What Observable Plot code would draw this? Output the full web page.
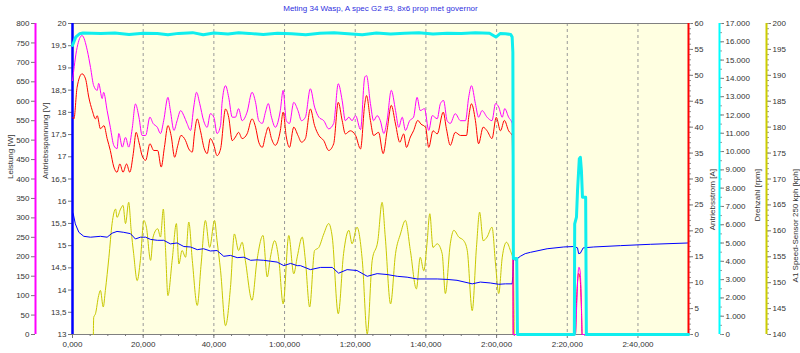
<!DOCTYPE html>
<html><head><meta charset="utf-8">
<script src="https://cdn.jsdelivr.net/npm/d3@7"></script>
<script src="https://cdn.jsdelivr.net/npm/@observablehq/plot@0.6"></script>
<style>
html,body{margin:0;padding:0;background:#fff;}
#chart{position:relative;width:800px;height:353px;font-family:"Liberation Sans",Arial,sans-serif;}
#chart svg{position:absolute;left:0;top:0;}
#title{position:absolute;top:4px;left:0;width:761px;text-align:center;font-size:8px;color:#3030e0;}
</style></head><body>
<div id="chart"><div id="title"></div></div>
<script>
const chartTitle = "Meting 34 Wasp, A spec G2 #3, 8x6 prop met governor";
const xDomain = [0, 174.3];
const xTicks = [0, 20, 40, 60, 80, 100, 120, 140, 160];
const xMinorTicks = d3.range(0, 174, 5);

// Leistung [W]  (time s, W)
const leistung = [[0,653],[1.3,738],[2.7,769],[4.2,730],[5.1,687],[6.0,640],[7.0,628],[7.4,646],[8.4,607],[8.8,623],[9.8,576],[10.7,533],[11.7,486],[12.6,478],[13.1,517],[14.1,482],[15.0,507],[15.9,482],[16.9,530],[17.8,593],[18.8,559],[19.7,512],[20.7,512],[21.9,559],[22.8,543],[24.0,533],[24.9,517],[25.8,550],[27.0,610],[27.7,576],[28.7,525],[29.6,550],[30.6,576],[31.5,563],[32.4,543],[33.4,525],[34.3,585],[35.1,623],[36.0,594],[37.1,550],[38.1,533],[39.0,568],[40.0,559],[40.9,517],[41.9,538],[42.3,594],[43.3,640],[44.2,610],[45.2,559],[46.1,559],[47.0,581],[48.0,550],[49.4,572],[50.8,623],[51.8,597],[52.7,550],[53.7,543],[54.6,572],[55.4,594],[56.3,559],[57.4,533],[58.8,576],[59.6,628],[60.5,550],[61.4,543],[62.6,597],[63.8,576],[64.8,550],[65.9,559],[67.3,632],[68.5,585],[69.7,559],[71.1,550],[72.5,529],[73.9,543],[75.2,645],[76.3,602],[77.2,550],[78.2,559],[79.1,550],[80.1,563],[81.5,527],[82.7,662],[83.2,666],[84.3,594],[85.2,550],[86.2,563],[87.1,550],[88.1,517],[89.0,550],[90.2,628],[91.4,576],[92.3,533],[93.3,559],[94.2,525],[95.4,550],[96.5,559],[97.5,610],[98.4,576],[99.6,581],[100.8,525],[101.8,563],[103.2,555],[104.1,594],[105.0,602],[106.0,550],[106.9,543],[108.3,568],[109.8,550],[111.2,550],[112.1,610],[112.9,640],[114.0,594],[114.9,559],[115.9,576],[117.3,559],[118.7,550],[119.7,594],[120.6,585],[121.6,559],[122.3,581],[123.4,559],[124.4,543],[124.6,400],[124.7,0],[142.3,0],[142.6,60],[143.0,150],[143.3,173],[143.6,165],[144.0,80],[144.2,0],[174.3,0]];

// Antriebsstrom [A]
const strom = [[0,41.9],[0.4,41.6],[1.3,47.7],[2.7,50.3],[3.7,49.3],[4.6,45.8],[5.6,43.2],[6.5,41.6],[7.0,42.2],[7.9,39.7],[8.9,40.3],[9.8,37.8],[10.7,35.5],[11.7,32.3],[12.6,31.3],[13.4,32.9],[14.3,31.3],[15.3,32.9],[16.2,31.3],[17.2,34.9],[18.0,39.0],[18.8,37.1],[19.7,34.5],[20.7,33.6],[21.9,36.8],[23.0,35.5],[24.1,35.5],[25.1,32.3],[26.0,36.1],[27.0,40.3],[27.9,38.4],[28.9,34.2],[29.8,36.5],[30.7,38.4],[32.0,37.4],[32.9,35.8],[33.9,35.2],[34.5,38.7],[35.3,41.6],[36.2,39.3],[37.3,35.8],[38.1,34.9],[39.0,37.8],[40.0,36.5],[40.9,34.5],[41.9,35.8],[43.3,43.5],[44.2,41.9],[45.2,37.4],[46.1,38.1],[47.0,39.0],[48.0,37.8],[49.4,38.7],[50.8,41.6],[51.8,40.0],[52.7,37.1],[53.7,36.1],[54.6,38.4],[55.4,40.0],[56.3,37.8],[57.4,36.5],[58.8,39.3],[59.6,42.9],[60.5,38.1],[61.4,36.1],[62.6,40.0],[63.8,38.4],[64.8,37.1],[65.9,37.8],[67.3,43.5],[68.5,40.3],[69.7,38.4],[71.1,37.4],[72.5,35.5],[73.9,36.8],[75.2,44.8],[76.3,41.3],[77.2,38.7],[78.6,39.3],[80.1,38.4],[81.5,35.8],[82.7,44.5],[83.2,46.1],[84.3,41.3],[85.2,38.4],[86.6,39.0],[87.9,34.9],[89.0,39.3],[90.2,44.2],[91.4,40.6],[92.6,37.1],[93.7,38.7],[94.5,36.1],[95.6,38.1],[96.5,39.3],[97.7,41.3],[98.6,40.6],[99.9,40.0],[100.8,36.1],[102.0,39.3],[103.2,38.7],[104.9,42.9],[105.8,39.7],[106.9,36.5],[108.3,39.0],[109.8,38.4],[111.5,38.4],[112.1,41.9],[112.9,44.5],[114.0,41.3],[114.9,36.8],[116.2,40.0],[117.3,39.3],[118.7,37.8],[119.9,41.9],[121.1,39.3],[122.2,41.3],[123.4,39.3],[124.4,38.4],[124.6,24],[124.7,0],[142.3,0],[142.6,6],[143.2,11.8],[143.6,11],[144.0,5],[144.2,0],[174.3,0]];

// Antriebsspannung [V]
const spannung = [[0,15.75],[0.2,15.72],[0.8,15.49],[1.8,15.30],[3.2,15.21],[5.1,15.19],[7.9,15.21],[9.8,15.19],[11.2,15.28],[12.6,15.32],[14.5,15.30],[16.4,15.27],[17.8,15.15],[19.2,15.19],[20.7,15.19],[22.1,15.14],[24.0,15.12],[25.8,15.12],[27.7,15.04],[29.6,15.06],[31.5,14.98],[33.4,14.97],[35.3,14.91],[37.1,14.93],[39.0,14.88],[40.9,14.89],[42.8,14.76],[44.7,14.78],[46.6,14.73],[48.5,14.74],[50.4,14.67],[52.2,14.68],[54.1,14.67],[56.0,14.65],[57.9,14.63],[59.8,14.55],[61.7,14.60],[63.6,14.55],[64.5,14.55],[67.3,14.46],[70.2,14.51],[73.5,14.51],[75.3,14.38],[77.7,14.46],[80.5,14.44],[83.4,14.31],[86.2,14.37],[89.0,14.35],[91.9,14.31],[94.7,14.29],[97.5,14.25],[100.3,14.25],[103.2,14.25],[106.0,14.24],[108.8,14.22],[113.1,14.14],[115.4,14.18],[118.2,14.16],[120.6,14.13],[122.5,14.14],[124.4,14.14],[124.6,14.31],[124.8,14.70],[125.3,14.67],[126.7,14.76],[128.1,14.82],[129.6,14.85],[134.3,14.93],[139.0,14.97],[141.8,14.98],[142.9,14.95],[143.2,14.82],[143.7,14.83],[144.5,14.95],[147.5,14.97],[155,15.0],[163.5,15.03],[174.3,15.06]];

// Drehzahl [rpm]
const drehzahl = [[0,15800],[0.9,16250],[2.0,16440],[3,16480],[8,16450],[12,16480],[16,16400],[20,16470],[24,16450],[27,16380],[30,16460],[34,16500],[37,16380],[40,16480],[44,16430],[47,16490],[50,16460],[54,16400],[58,16470],[62,16440],[66,16380],[70,16470],[74,16500],[78,16440],[82,16380],[86,16480],[90,16430],[94,16470],[98,16500],[102,16420],[106,16470],[110,16460],[114,16500],[118,16470],[119.8,16260],[121,16450],[122.5,16440],[124.0,16400],[124.4,16260],[124.6,15430],[124.75,4150],[125.7,4150],[125.9,0],[142.0,0],[142.1,6050],[142.6,6410],[142.9,7870],[143.4,9600],[143.7,9690],[144.0,8960],[144.3,7500],[145.2,7500],[145.4,0],[174.3,0]];

// A1 Speed-Sensor 250 kph [kph]
const speed = [[5.9,140],[6.0,143.3],[6.5,144.0],[7.4,147.5],[7.9,148.5],[8.7,145.3],[9.3,148.5],[10.3,154.9],[11.2,161.4],[12.2,164.2],[12.6,162.6],[13.6,164.2],[14.3,164.9],[15.0,161.4],[15.9,165.5],[16.6,160.1],[17.3,155.6],[18.3,150.4],[19.2,154.3],[20.2,162.0],[20.9,160.7],[22.1,154.3],[22.8,158.8],[24.1,160.4],[24.9,158.8],[25.7,164.2],[26.3,156.8],[27.0,147.5],[28.2,154.3],[29.4,161.4],[30.1,153.6],[31.0,156.2],[32.0,154.9],[32.9,161.7],[33.9,154.3],[35.3,145.6],[36.4,153.6],[37.6,162.0],[38.8,156.8],[40.2,162.0],[40.9,158.1],[41.9,152.3],[43.3,141.7],[44.7,149.1],[45.8,159.4],[47.0,156.2],[48.0,157.8],[48.9,154.3],[50.8,146.6],[52.2,154.3],[53.9,159.1],[55.1,151.1],[56.0,154.9],[57.2,158.1],[58.4,154.3],[59.6,145.9],[61.2,159.1],[62.6,151.7],[63.6,155.0],[65.0,158.8],[65.9,154.3],[67.1,145.3],[68.5,156.2],[69.7,156.8],[71.1,159.4],[72.5,161.4],[73.5,158.8],[75.2,144.0],[76.7,155.6],[78.2,160.1],[79.1,157.5],[80.5,160.7],[82.0,154.3],[83.4,140.1],[84.8,154.3],[86.4,158.1],[87.6,165.5],[88.5,158.8],[90.0,145.9],[91.4,155.6],[92.8,159.4],[94.2,162.0],[95.6,156.2],[97.3,148.8],[98.4,154.9],[99.4,152.3],[100.3,157.5],[101.1,163.3],[102.0,156.8],[103.2,157.5],[104.6,155.6],[105.5,147.9],[106.9,157.5],[107.9,160.1],[109.3,158.8],[110.7,158.1],[111.7,156.2],[113.1,144.6],[114.3,156.8],[115.2,163.6],[116.2,158.1],[117.3,158.8],[118.7,160.7],[119.7,153.6],[120.6,147.9],[121.6,154.9],[122.8,157.8],[123.9,156.2],[124.7,154.3],[125.0,140]];

const leistungTicks = d3.range(0, 801, 50);
const spannungTicks = d3.range(13, 20.01, 0.5);
const stromTicks = d3.range(0, 61, 5);
const stromMinor = d3.range(0, 61, 1);
const drehzahlTicks = d3.range(0, 17001, 1000);
const drehzahlMinor = d3.range(0, 17001, 500);
const speedTicks = d3.range(140, 201, 5);
const speedMinor = d3.range(140, 201, 1);

const fmtTime = t => { const m = Math.floor(t / 60), s = t - m * 60; return m ? `${m}:${String(s).padStart(2, "0")},000` : `${s},000`; };
const fmtDec = v => String(v).replace(".", ",");
const fmtThou = v => d3.format(",")(v).replace(/,/g, ".");

document.getElementById("title").textContent = chartTitle;

const base = {
  width: 800, height: 353, marginLeft: 72, marginRight: 112, marginTop: 23, marginBottom: 19,
  style: {background: "transparent", fontFamily: "Liberation Sans, Arial, sans-serif", fontSize: "8px", color: "#333", overflow: "visible"}
};
const X = d => d[0], Y = d => d[1];
const axisCol = {stroke: "#777", fill: "#333"};
const label = (txt, side, dx, dy = 0) => Plot.text([txt], {text: d => d, frameAnchor: side, dx, dy, rotate: -90, fill: "#333"});

const plots = [
  // background, x-axis, voltage axis
  Plot.plot({...base, x: {domain: xDomain}, y: {domain: [13, 20]},
    marks: [
      Plot.frame({fill: "#ffffe1", stroke: null}),
      Plot.ruleX(xTicks.slice(1), {stroke: "#999", strokeDasharray: "3,3"}),
      Plot.frame({stroke: "#808080"}),
      Plot.axisX(xTicks, {tickFormat: fmtTime, tickSize: 4, tickPadding: 3, ...axisCol}),
      Plot.axisX(xMinorTicks, {tickSize: 2, stroke: "#777", fill: "none"}),
      Plot.axisY(spannungTicks, {anchor: "left", tickFormat: fmtDec, tickSize: 4, tickPadding: 2, ...axisCol}),
      label("Antriebsspannung [V]", "left", -27)
    ]}),
  // speed (yellow)
  Plot.plot({...base, x: {domain: xDomain, axis: null}, y: {domain: [140, 200]},
    marks: [
      Plot.axisY(speedTicks, {anchor: "right", dx: 78, tickSize: 4, tickPadding: 2, ...axisCol}),
      Plot.axisY(speedMinor, {anchor: "right", dx: 78, tickSize: 2, stroke: "#999", fill: "none"}),
      Plot.ruleX([xDomain[1]], {stroke: "#cccc00", strokeWidth: 2, dx: 78}),
      label("A1 Speed-Sensor 250 kph [kph]", "right", 107, -10),
      Plot.line(speed, {x: X, y: Y, stroke: "#c8c800", strokeWidth: 1, curve: "monotone-x"})
    ]}),
  // voltage line (blue) on top of yellow
  Plot.plot({...base, x: {domain: xDomain, axis: null}, y: {domain: [13, 20], axis: null},
    marks: [
      Plot.line(spannung, {x: X, y: Y, stroke: "#0000ff", strokeWidth: 1}),
      Plot.ruleX([0], {stroke: "#0000ff", strokeWidth: 2.5})
    ]}),
  // current (red)
  Plot.plot({...base, x: {domain: xDomain, axis: null}, y: {domain: [0, 60]},
    marks: [
      Plot.axisY(stromTicks, {anchor: "right", tickSize: 4, tickPadding: 2, ...axisCol}),
      Plot.axisY(stromMinor, {anchor: "right", tickSize: 2, stroke: "#999", fill: "none"}),
      Plot.ruleX([xDomain[1]], {stroke: "#ff0000", strokeWidth: 2}),
      label("Antriebsstrom [A]", "right", 24, -10),
      Plot.line(strom, {x: X, y: Y, stroke: "#ff0000", strokeWidth: 1, curve: "monotone-x"})
    ]}),
  // power (magenta)
  Plot.plot({...base, x: {domain: xDomain, axis: null}, y: {domain: [0, 800]},
    marks: [
      Plot.axisY(leistungTicks, {anchor: "left", dx: -37, tickSize: 4, tickPadding: 2, ...axisCol}),
      Plot.ruleX([0], {stroke: "#ff00ff", strokeWidth: 2, dx: -37}),
      label("Leistung [W]", "left", -62),
      Plot.line(leistung, {x: X, y: Y, stroke: "#ff00ff", strokeWidth: 1, curve: "monotone-x"})
    ]}),
  // rpm (cyan)
  Plot.plot({...base, x: {domain: xDomain, axis: null}, y: {domain: [0, 17000]},
    marks: [
      Plot.axisY(drehzahlTicks, {anchor: "right", dx: 31, tickFormat: fmtThou, tickSize: 4, tickPadding: 2, ...axisCol}),
      Plot.axisY(drehzahlMinor, {anchor: "right", dx: 31, tickSize: 2, stroke: "#999", fill: "none"}),
      Plot.ruleX([xDomain[1]], {stroke: "#00ffff", strokeWidth: 2, dx: 31}),
      label("Drehzahl [rpm]", "right", 69, -10),
      Plot.line(drehzahl, {x: X, y: Y, stroke: "#10eeee", strokeWidth: 3})
    ]})
];
const chart = document.getElementById("chart");
plots.forEach(p => chart.appendChild(p));
</script>
</body></html>
